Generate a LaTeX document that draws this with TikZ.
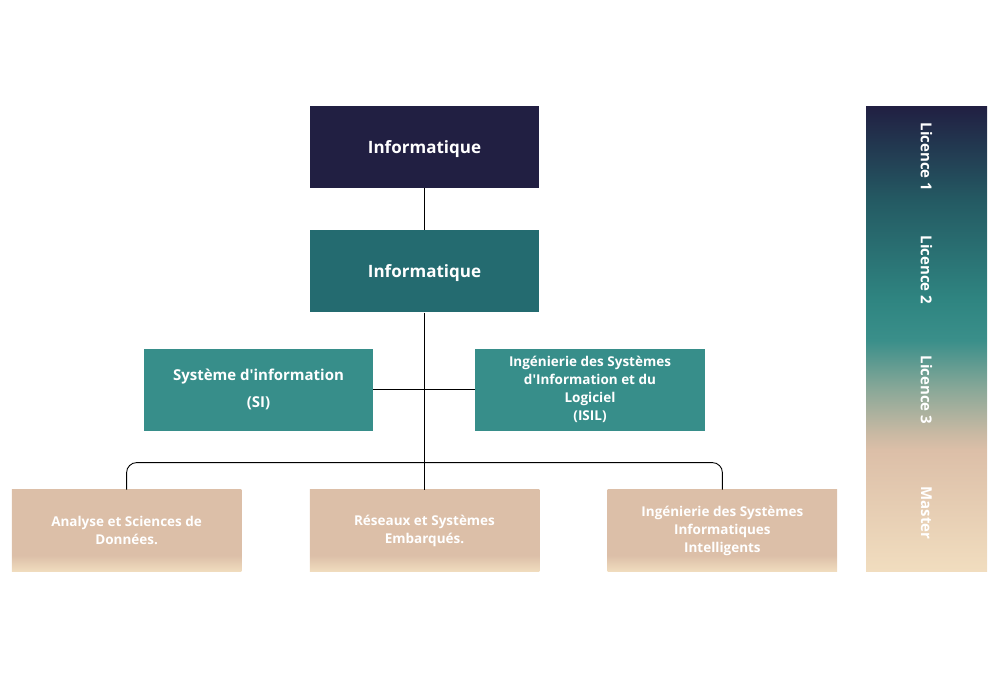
\documentclass[tikz,border=0pt]{standalone}
\usepackage{fontspec}
\setmainfont{Open Sans}[Ligatures=TeXOff]
\usetikzlibrary{positioning,shapes}
\definecolor{navy}{HTML}{211F42}
\definecolor{tealdark}{HTML}{246B70}
\definecolor{tealmid}{HTML}{378E8A}
\definecolor{sand}{HTML}{DCBFA8}
\definecolor{sandlight}{HTML}{F1DDBF}
\definecolor{barA}{HTML}{245A63}
\definecolor{barB}{HTML}{2F8581}
\definecolor{barC}{HTML}{3A8F8A}
\definecolor{barD}{HTML}{8AA898}
\definecolor{barE}{HTML}{C9B9A3}
\pgfdeclareverticalshading{barshade}{100bp}{color(0bp)=(sandlight); color(25bp)=(sandlight);
  color(38bp)=(sand); color(39.8bp)=(barE); color(44.5bp)=(barD); color(49.8bp)=(barC);
  color(54.1bp)=(barB); color(64.9bp)=(barA); color(75bp)=(navy); color(100bp)=(navy)}
\pgfdeclareverticalshading{sandshade}{100bp}{color(0bp)=(sandlight); color(25bp)=(sandlight);
  color(35bp)=(sand); color(100bp)=(sand)}
\newcommand{\Info}{Informatique}
\newcommand{\SI}{Système d'information\\[8pt](SI)}
\newcommand{\ISIL}{Ingénierie des Systèmes\\d'Information et du\\Logiciel\\(ISIL)}
\newcommand{\ASD}{Analyse et Sciences de\\Données.}
\newcommand{\RSE}{Réseaux et Systèmes\\Embarqués.}
\newcommand{\ISIA}{Ingénierie des Systèmes\\Informatiques\\Intelligents}

\begin{document}
\begin{tikzpicture}[x=1pt,y=-1pt,node distance=40pt,
    box/.style={rectangle,minimum width=229.5pt,minimum height=82pt,inner sep=0pt,
      text=white,align=center,font=\bfseries\fontsize{13.5}{18}\selectfont},
    navybox/.style={box,fill=navy,text depth=0pt,font=\bfseries\fontsize{17}{20}\selectfont},
    tealbox/.style={box,fill=tealdark,text depth=0pt,font=\bfseries\fontsize{17}{20}\selectfont},
    midbox/.style={box,fill=tealmid},
    sandbox/.style={box,shade,shading=sandshade},
    lvlbar/.style={rectangle,minimum width=121pt,minimum height=465pt,inner sep=0pt,
      shade,shading=barshade},
    lvl/.style={rotate=-90,text=white,font=\bfseries\fontsize{15}{18}\selectfont},
    link/.style={line width=0.9pt}]
      \useasboundingbox (0,0) rectangle (1000,678);

      \node[navybox] (info1) at (424.5,147)             {\Info};
      \node[tealbox] (info2) [below=42pt of info1]      {\Info};
      \node[midbox,font=\bfseries\fontsize{15}{19}\selectfont]
                     (si)    [below=36pt of info2, xshift=-166pt]  {\SI};
      \node[midbox]  (isil)  [below=36pt of info2, xshift=165.5pt] {\ISIL};
      \node[sandbox] (rse)   [below=177pt of info2]     {\RSE};
      \node[sandbox] (asd)   [left=68pt of rse]         {\ASD};
      \node[sandbox] (isia)  [right=68pt of rse]        {\ISIA};
      \coordinate[above=27pt of rse.north] (fork);

      \node[lvlbar] (bar) at (926.5,338.5) {};
      \node[lvl] (l1) at (926.5,157) {Licence 1};
      \node[lvl] (l2) at (926.5,270) {Licence 2};
      \node[lvl] (l3) at (926.5,390) {Licence 3};
      \node[lvl] (ms) at (926.5,513) {Master};

      \draw[link] (info1) -- (info2);
      \draw[link] (info2) -- (rse);
      \draw[link] (si)    -- (isil);
      \draw[link,rounded corners=10pt] (asd.north) |- (fork) -| (isia.north);
\end{tikzpicture}
\end{document}
